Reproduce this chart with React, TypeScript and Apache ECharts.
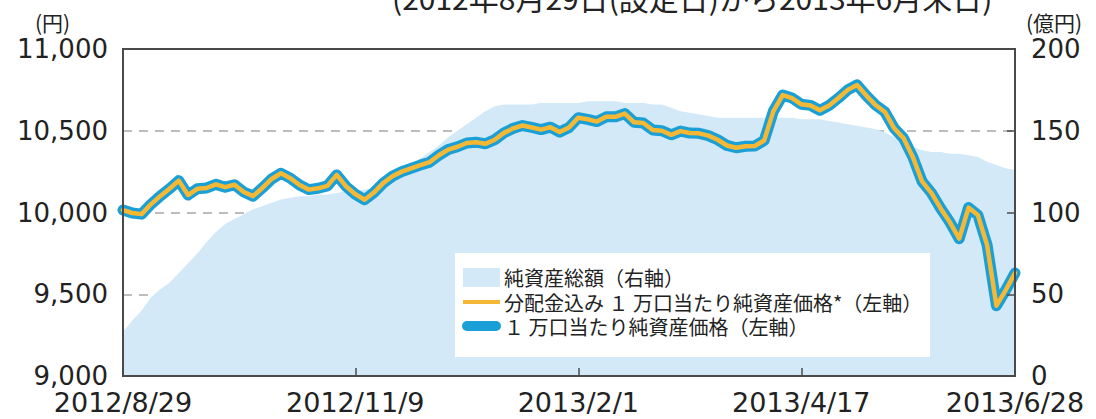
import React, { useEffect, useRef } from "react";
import * as echarts from "echarts";

// 1万口当たり純資産価格 (円), sampled evenly across the period
const nav = [
  10015, 9997, 9990, 10050, 10100, 10145, 10195, 10107, 10145, 10150,
  10172, 10155, 10170, 10125, 10100, 10150, 10205, 10240, 10210, 10168,
  10140, 10148, 10163, 10230, 10160, 10112, 10078, 10122, 10180, 10222,
  10250, 10270, 10290, 10308, 10350, 10385, 10402, 10425, 10430, 10420,
  10445, 10487, 10515, 10532, 10520, 10507, 10522, 10492, 10520, 10580,
  10570, 10556, 10585, 10585, 10605, 10552, 10547, 10505, 10500, 10475,
  10498, 10486, 10484, 10470, 10445, 10410, 10396, 10405, 10407, 10440,
  10620, 10718, 10700, 10662, 10655, 10625, 10655, 10700, 10750, 10780,
  10715, 10657, 10615, 10515, 10455, 10340, 10190, 10120, 10025, 9940,
  9840, 10030, 9985, 9800, 9430, 9525, 9630,
];

// 分配金込み 1万口当たり純資産価格 (円) — no distribution in the period
const navInclDist = [
  10015, 9997, 9990, 10050, 10100, 10145, 10195, 10107, 10145, 10150,
  10172, 10155, 10170, 10125, 10100, 10150, 10205, 10240, 10210, 10168,
  10140, 10148, 10163, 10230, 10160, 10112, 10078, 10122, 10180, 10222,
  10250, 10270, 10290, 10308, 10350, 10385, 10402, 10425, 10430, 10420,
  10445, 10487, 10515, 10532, 10520, 10507, 10522, 10492, 10520, 10580,
  10570, 10556, 10585, 10585, 10605, 10552, 10547, 10505, 10500, 10475,
  10498, 10486, 10484, 10470, 10445, 10410, 10396, 10405, 10407, 10440,
  10620, 10718, 10700, 10662, 10655, 10625, 10655, 10700, 10750, 10780,
  10715, 10657, 10615, 10515, 10455, 10340, 10190, 10120, 10025, 9940,
  9840, 10030, 9985, 9800, 9430, 9525, 9630,
];

// 純資産総額 (億円)
const totalAssets = [
  27, 34, 40, 48, 53, 57, 63, 69, 75, 82,
  88, 93, 96, 99, 102, 104, 106, 108, 109, 110,
  110, 111, 111, 112, 113, 113, 114, 115, 117, 120,
  124, 128, 133, 137, 141, 146, 150, 154, 158, 162,
  165, 166, 166, 166, 166, 167, 167, 167, 167, 167,
  168, 168, 168, 168, 167, 167, 167, 166, 166, 164,
  162, 161, 160, 159, 158, 158, 158, 158, 158, 158,
  158, 158, 158, 157, 157, 157, 156, 155, 154, 153,
  152, 151, 149, 146, 143, 140, 138, 137, 137, 136,
  136, 135, 134, 131, 129, 127, 126,
];

const tickIndex = [0, 25, 49, 73, 96];
const tickLabels = ["2012/8/29", "2012/11/9", "2013/2/1", "2013/4/17", "2013/6/28"];

const seriesNames = [
  "純資産総額（右軸）",
  "分配金込み １ 万口当たり純資産価格*（左軸）",
  "１ 万口当たり純資産価格（左軸）",
];
const titleText = "(2012年8月29日(設定日)から2013年6月末日)";
const leftUnit = "(円)";
const rightUnit = "(億円)";

const AREA = "#d3e9f7";
const BLUE = "#1a9fd6";
const YELLOW = "#f4b835";
const AXIS = "#4a4a4a";
const TXT = "#222";
const NUMFONT = "DejaVu Sans";
const JPFONT = "Noto Sans CJK JP";

export default function App() {
  const ref = useRef<HTMLDivElement>(null);
  useEffect(() => {
    if (!ref.current) return;
    const chart = echarts.init(ref.current, undefined, { renderer: "svg" });
    const categories = nav.map((_, i) => String(i));
    const showIdx = (idx: number) => tickIndex.includes(idx);
    const legendText = (i: number, y: number) => ({
      type: "text",
      z: 51,
      x: 504,
      y,
      style: {
        text: seriesNames[i],
        fill: TXT,
        font: `20px "${JPFONT}"`,
        lineHeight: 20,
        verticalAlign: "middle",
      },
    });
    chart.setOption({
      animation: false,
      backgroundColor: "#fff",
      grid: {
        left: 123,
        right: 81,
        top: 49,
        bottom: 43,
        show: true,
        borderColor: AXIS,
        borderWidth: 2,
        backgroundColor: "transparent",
        z: 10,
      },
      xAxis: {
        type: "category",
        data: categories,
        boundaryGap: false,
        axisLine: { show: true, lineStyle: { color: AXIS, width: 2 } },
        axisTick: {
          show: true,
          inside: true,
          length: 8,
          interval: (idx: number) => showIdx(idx) && idx !== 0 && idx !== 96,
          lineStyle: { color: AXIS, width: 1.5 },
        },
        axisLabel: {
          interval: (idx: number) => showIdx(idx),
          formatter: (_v: string, idx: number) => {
            const k = tickIndex.indexOf(idx);
            return k >= 0 ? tickLabels[k] : "";
          },
          color: TXT,
          fontFamily: NUMFONT,
          fontSize: 27,
          lineHeight: 24,
          margin: 14,
        },
        splitLine: { show: false },
        z: 10,
      },
      yAxis: [
        {
          type: "value",
          min: 9000,
          max: 11000,
          interval: 500,
          axisLine: { show: true, lineStyle: { color: AXIS, width: 2 } },
          axisTick: { show: false },
          axisLabel: {
            color: TXT,
            fontFamily: NUMFONT,
            fontSize: 26,
            lineHeight: 22,
            margin: 15,
            formatter: (v: number) => v.toLocaleString("en-US"),
          },
          splitLine: {
            show: true,
            lineStyle: { color: "#a8a8a8", type: [9, 7], width: 1.5 },
          },
          z: 0,
        },
        {
          type: "value",
          min: 0,
          max: 200,
          interval: 50,
          axisLine: { show: true, lineStyle: { color: AXIS, width: 2 } },
          axisTick: { show: true, inside: true, length: 8, lineStyle: { color: AXIS, width: 1.5 } },
          axisLabel: {
            color: TXT,
            fontFamily: NUMFONT,
            fontSize: 26,
            lineHeight: 20,
            margin: 16,
          },
          splitLine: { show: false },
          z: 10,
        },
      ],
      series: [
        {
          name: seriesNames[0],
          type: "line",
          yAxisIndex: 1,
          data: totalAssets,
          showSymbol: false,
          lineStyle: { width: 0, color: AREA },
          itemStyle: { color: AREA },
          areaStyle: { color: AREA, opacity: 1 },
          z: 2,
        },
        {
          name: seriesNames[2],
          type: "line",
          yAxisIndex: 0,
          data: nav,
          showSymbol: false,
          lineStyle: { width: 11, color: BLUE, join: "round", cap: "round" },
          itemStyle: { color: BLUE },
          z: 3,
        },
        {
          name: seriesNames[1],
          type: "line",
          yAxisIndex: 0,
          data: navInclDist,
          showSymbol: false,
          lineStyle: { width: 4.5, color: YELLOW, join: "round", cap: "round" },
          itemStyle: { color: YELLOW },
          z: 4,
        },
      ],
      graphic: [
        {
          type: "text",
          x: 392,
          y: 12,
          z: 100,
          style: {
            text: titleText,
            fill: TXT,
            font: `30px "${JPFONT}"`,
            verticalAlign: "bottom",
            lineHeight: 30,
          },
        },
        {
          type: "text",
          x: 35,
          y: 22,
          z: 100,
          style: {
            text: leftUnit,
            fill: TXT,
            font: `21px "${JPFONT}"`,
            lineHeight: 20,
            verticalAlign: "middle",
          },
        },
        {
          type: "text",
          x: 1026,
          y: 22,
          z: 100,
          style: {
            text: rightUnit,
            fill: TXT,
            font: `21px "${JPFONT}"`,
            lineHeight: 20,
            verticalAlign: "middle",
          },
        },
        {
          type: "rect",
          z: 50,
          shape: { x: 455, y: 253, width: 475, height: 104 },
          style: { fill: "#fff" },
        },
        {
          type: "rect",
          z: 51,
          shape: { x: 463, y: 268, width: 37, height: 19 },
          style: { fill: AREA },
        },
        {
          type: "line",
          z: 51,
          shape: { x1: 463, y1: 302, x2: 500, y2: 302 },
          style: { stroke: YELLOW, lineWidth: 4 },
        },
        {
          type: "line",
          z: 51,
          shape: { x1: 467, y1: 326, x2: 496, y2: 326 },
          style: { stroke: BLUE, lineWidth: 10, lineCap: "round" },
        },
        legendText(0, 277),
        legendText(1, 302),
        legendText(2, 326),
      ],
    });
    return () => chart.dispose();
  }, []);
  return (
    <div
      ref={ref}
      style={{ position: "fixed", left: 0, top: 0, width: 1096, height: 419, background: "#fff" }}
    />
  );
}
